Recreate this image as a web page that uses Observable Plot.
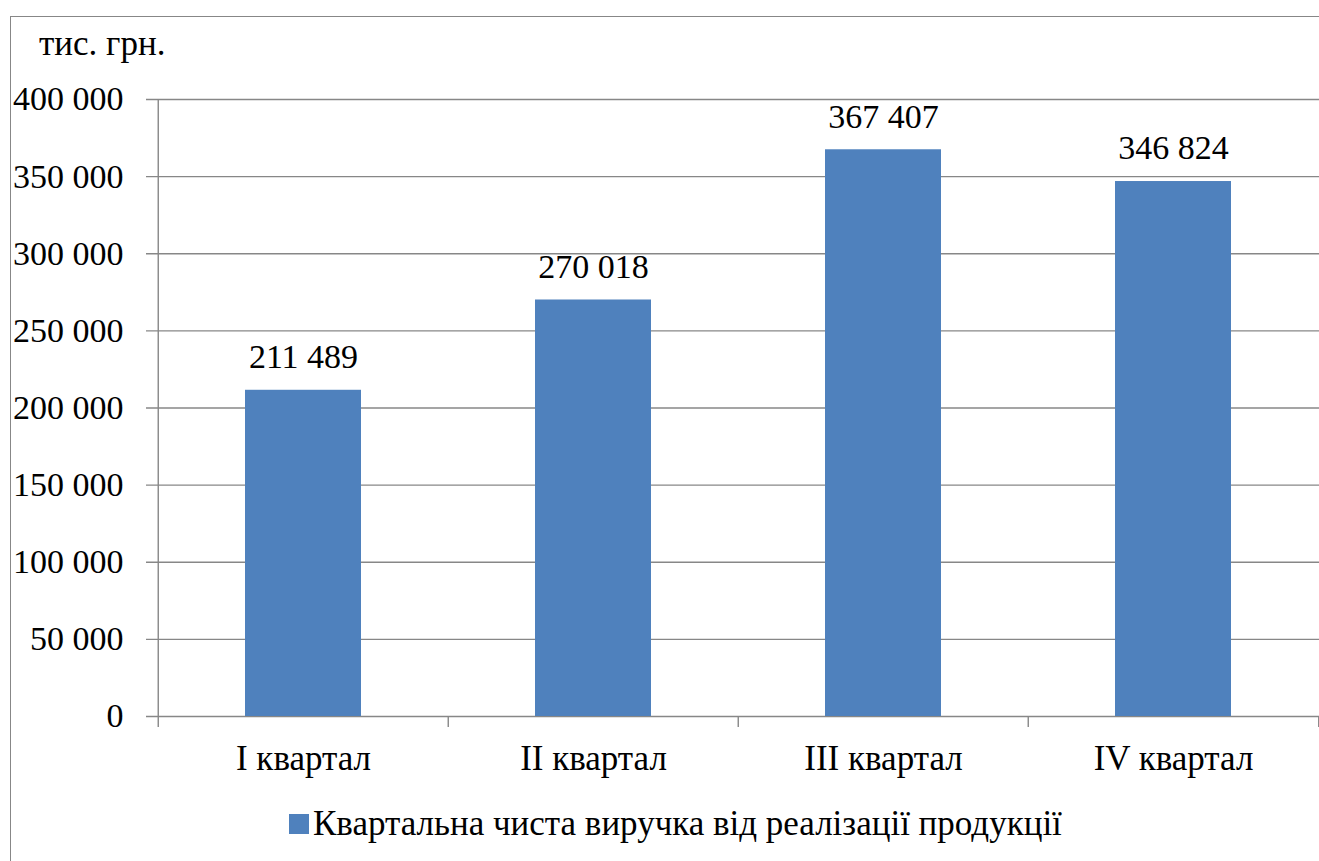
<!DOCTYPE html>
<html>
<head>
<meta charset="utf-8">
<script src="https://cdn.jsdelivr.net/npm/d3@7"></script>
<script src="https://cdn.jsdelivr.net/npm/@observablehq/plot@0.6"></script>
<style>
  html, body { margin: 0; padding: 0; background: #fff; overflow: hidden; }
  body { width: 1319px; height: 861px; position: relative; font-family: "Liberation Serif", serif; color: #000; }
  #frame { position: absolute; left: 10px; top: 16px; width: 1400px; height: 900px; border: 1.5px solid #878787; box-sizing: border-box; }
  #chart { position: absolute; left: 0; top: 0; }
  #chart svg, #chart svg text { font-family: "Liberation Serif", serif !important; font-variant: normal !important; }
  #unit { position: absolute; left: 39px; top: 27px; font-size: 35px; line-height: 34px; white-space: nowrap; }
  #legend { position: absolute; left: 289px; top: 806px; display: flex; align-items: center; font-size: 35px; line-height: 36px; white-space: nowrap; }
  #legend .sw { width: 20px; height: 20px; margin-right: 4px; }
</style>
</head>
<body>
<div id="frame"></div>
<div id="unit"></div>
<div id="chart"></div>
<div id="legend"></div>
<script>
// Quarterly net revenue from product sales, thousand UAH
const quarters = ["I квартал", "II квартал", "III квартал", "IV квартал"];
const revenue = [211489, 270018, 367407, 346824];
const yTicks = [0, 50000, 100000, 150000, 200000, 250000, 300000, 350000, 400000];
const seriesName = "Квартальна чиста виручка від реалізації продукції";
const unitLabel = "тис. грн.";

const barColor = "#4F81BD";
const gridColor = "#878787";
const serif = "'Liberation Serif', serif";

const data = quarters.map((q, i) => ({quarter: q, value: revenue[i]}));
const fmt = d3.formatLocale({decimal: ",", thousands: " ", grouping: [3], currency: ["", ""]}).format(",");

const W = 1319, H = 790, ML = 157, MR = 0;
const halfStep = (W - ML - MR) / quarters.length / 2;

const chart = Plot.plot({
  width: W,
  height: H,
  marginLeft: ML,
  marginRight: MR,
  marginTop: 99,
  marginBottom: 74,
  style: {fontFamily: serif, fontSize: "34px", color: "#000", background: "transparent"},
  x: {type: "band", domain: quarters, paddingInner: 0.6, paddingOuter: 0.3, label: null},
  y: {domain: [0, 400000], label: null},
  marks: [
    // horizontal gridlines with short tick stubs on the left
    Plot.ruleY(yTicks, {stroke: gridColor, strokeWidth: 1.4, insetLeft: -11}),
    Plot.barY(data, {x: "quarter", y: "value", fill: barColor}),
    // vertical value axis line
    Plot.ruleX([quarters[0]], {x: d => d, y1: () => 400000, y2: () => 0, dx: -halfStep, insetBottom: -11, stroke: gridColor, strokeWidth: 1.4}),
    // category boundary ticks below the baseline
    Plot.ruleX(quarters.slice(1), {x: d => d, y1: () => 0, y2: () => 0, dx: -halfStep, insetBottom: -11, stroke: gridColor, strokeWidth: 1.4}),
    Plot.ruleX(quarters.slice(-1), {x: d => d, y1: () => 0, y2: () => 0, dx: halfStep, insetBottom: -11, stroke: gridColor, strokeWidth: 1.4}),
    // value labels above bars
    Plot.text(data, {x: "quarter", y: "value", text: d => fmt(d.value), dy: -33, fontSize: 34, fontFamily: serif, fill: "#000"}),
    Plot.axisY({ticks: yTicks, tickSize: 0, tickPadding: 34, tickFormat: fmt, fontSize: 34, fontFamily: serif, label: null}),
    Plot.axisX({tickSize: 0, tickPadding: 29, fontSize: 35, fontFamily: serif, label: null})
  ]
});
document.getElementById("chart").appendChild(chart);

document.getElementById("unit").textContent = unitLabel;

const legend = document.getElementById("legend");
const sw = document.createElement("span");
sw.className = "sw";
sw.style.background = barColor;
const lt = document.createElement("span");
lt.textContent = seriesName;
legend.appendChild(sw);
legend.appendChild(lt);
</script>
</body>
</html>
